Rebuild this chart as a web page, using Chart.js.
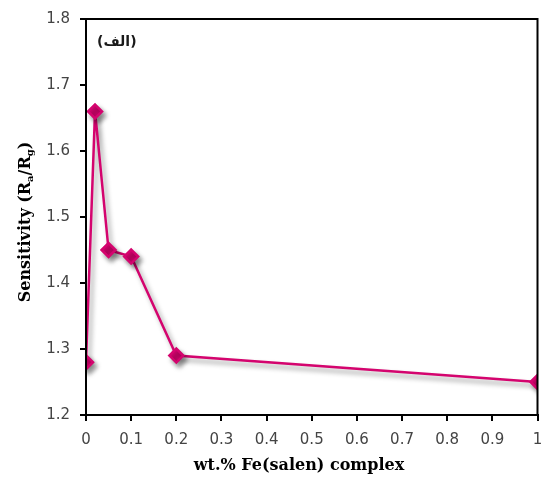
<!DOCTYPE html>
<html>
<head>
<meta charset="utf-8">
<script src="https://cdn.jsdelivr.net/npm/chart.js@4"></script>
<style>
  html, body { margin: 0; padding: 0; background: #fff; }
  #wrap { width: 547px; height: 477px; }
</style>
</head>
<body>
<div id="wrap"><canvas id="chart" width="547" height="477"></canvas></div>
<script>
// data
const feContent = [0, 0.02, 0.05, 0.1, 0.2, 1];
const sensitivity = [1.28, 1.66, 1.45, 1.44, 1.29, 1.25];
const xTickLabels = ["0", "0.1", "0.2", "0.3", "0.4", "0.5", "0.6", "0.7", "0.8", "0.9", "1"];
const yTickLabels = ["1.2", "1.3", "1.4", "1.5", "1.6", "1.7", "1.8"];
const panelLabel = "(الف)";
const xTitle = "wt.% Fe(salen) complex";

const lineColor = "#d4046e";
const tickFont = { family: "DejaVu Sans", size: 15 };
const noPad = () => ({ left: 0, top: 0, right: 0, bottom: 0 });

// frame box, shadow, axis titles (y with subscripts), panel label
const extras = {
    id: "extras",
    beforeDatasetsDraw(c) {
        c.ctx.save();
        c.ctx.shadowColor = "rgba(0,0,0,0.4)";
        c.ctx.shadowBlur = 5;
        c.ctx.shadowOffsetX = 3;
        c.ctx.shadowOffsetY = 4;
    },
    afterDatasetsDraw(c) {
        c.ctx.restore();
    },
    afterDraw(c) {
        const ctx = c.ctx;
        const a = c.chartArea;
        ctx.save();
        ctx.strokeStyle = "#000";
        ctx.lineWidth = 2;
        ctx.strokeRect(a.left, a.top, a.right - a.left, a.bottom - a.top);

        // panel label
        ctx.fillStyle = "#1a1a1a";
        ctx.font = "bold 14px 'DejaVu Sans'";
        ctx.textBaseline = "middle";
        ctx.textAlign = "left";
        ctx.direction = "rtl";
        ctx.fillText(panelLabel, a.left + 11, 42);
        ctx.direction = "ltr";

        // x title
        ctx.fillStyle = "#000";
        ctx.textAlign = "center";
        ctx.font = "bold 16px 'DejaVu Serif'";
        ctx.fillText(xTitle, 299, 466);

        // y title
        ctx.translate(26, 222);
        ctx.rotate(-Math.PI / 2);
        const big = "bold 16px 'DejaVu Serif'";
        const small = "bold 10px 'DejaVu Serif'";
        const parts = [
            ["Sensitivity (R", big, 0],
            ["a", small, 4],
            ["/R", big, 0],
            ["g", small, 4],
            [")", big, 0]
        ];
        let total = 0;
        parts.forEach(p => { ctx.font = p[1]; total += ctx.measureText(p[0]).width; });
        let x = -total / 2;
        ctx.textAlign = "left";
        parts.forEach(p => {
            ctx.font = p[1];
            ctx.fillText(p[0], x, p[2]);
            x += ctx.measureText(p[0]).width;
        });
        ctx.restore();
    }
};

new Chart(document.getElementById("chart"), {
    type: "line",
    data: {
        datasets: [{
            data: feContent.map((x, i) => ({ x: x, y: sensitivity[i] })),
            borderColor: lineColor,
            backgroundColor: lineColor,
            borderWidth: 2.5,
            pointStyle: "rectRot",
            pointRadius: 7,
            pointHoverRadius: 7,
            tension: 0
        }]
    },
    options: {
        responsive: false,
        animation: false,
        events: [],
        layout: { padding: { top: 19, right: 6, left: 0, bottom: 0 } },
        plugins: { legend: { display: false }, tooltip: { enabled: false } },
        scales: {
            x: {
                type: "linear",
                min: 0,
                max: 1,
                afterBuildTicks: s => { s.ticks = xTickLabels.map(t => ({ value: parseFloat(t) })); },
                afterFit: s => { s.height = 62; s.getPadding = noPad; },
                grid: { drawOnChartArea: false, tickLength: 6, color: "#000", lineWidth: 2 },
                border: { color: "#000", width: 2 },
                ticks: {
                    color: "#444",
                    font: tickFont,
                    padding: 10,
                    maxRotation: 0,
                    callback: (v, i) => xTickLabels[i]
                }
            },
            y: {
                min: 1.2,
                max: 1.8,
                afterBuildTicks: s => { s.ticks = yTickLabels.map(t => ({ value: parseFloat(t) })); },
                afterFit: s => { s.width = 86; s.getPadding = noPad; },
                grid: { drawOnChartArea: false, tickLength: 6, color: "#000", lineWidth: 2 },
                border: { color: "#000", width: 2 },
                ticks: {
                    color: "#444",
                    font: tickFont,
                    padding: 10,
                    callback: (v, i) => yTickLabels[i]
                }
            }
        }
    },
    plugins: [extras]
});
</script>
</body>
</html>
